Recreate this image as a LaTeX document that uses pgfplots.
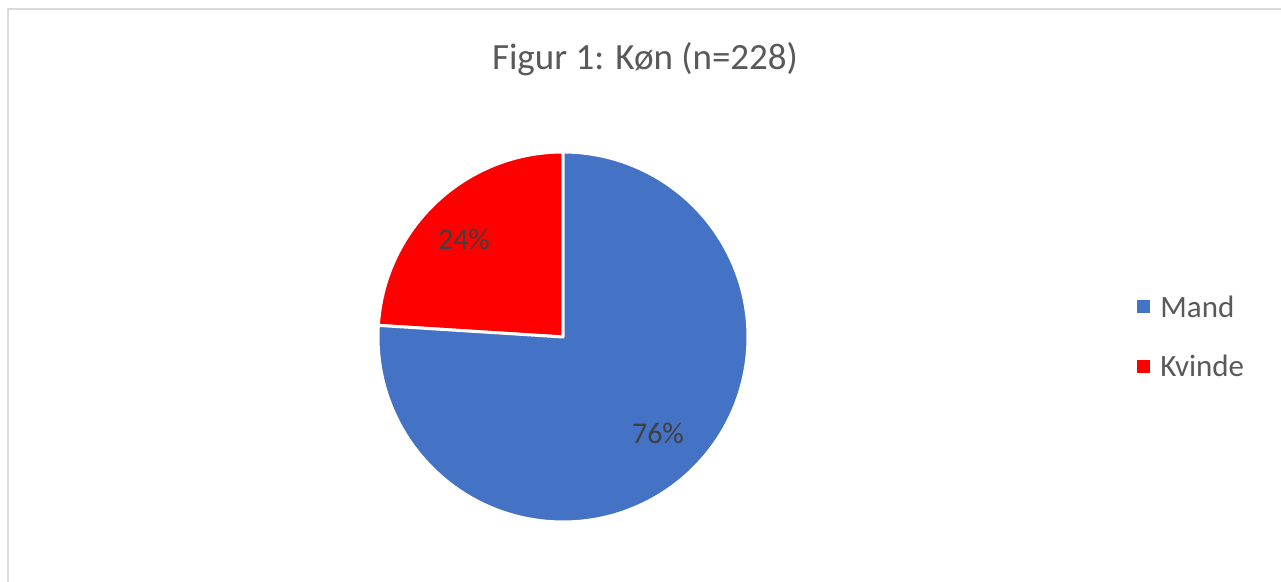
\documentclass[border=0pt]{standalone}
\usepackage{pgfplots}
\pgfplotsset{compat=1.18}
\usepackage{fontspec}
\setmainfont{Carlito}
\definecolor{mandblue}{HTML}{4472C4}
\definecolor{kvindered}{HTML}{FF0000}
\definecolor{framegray}{HTML}{D9D9D9}
\definecolor{titlegray}{HTML}{595959}
\definecolor{labelgray}{HTML}{404040}
% data (percent)
\def\mand{76}
\def\kvinde{24}
\begin{document}
\begin{tikzpicture}
\begin{axis}[
  hide axis, scale only axis,
  width=640.5pt, height=291pt,
  xmin=0, xmax=1281, ymin=0, ymax=582,
  clip=true,
]
\fill[white] (axis cs:0,0) rectangle (axis cs:1281,582);
\draw[framegray, line width=0.8pt] (axis cs:8,-10) -- (axis cs:8,573) -- (axis cs:1300,573);
\pgfmathsetmacro{\angB}{90+360*\kvinde/100}
% Kvinde slice
\filldraw[fill=kvindered, draw=white, line width=1.5pt, line join=round]
  (axis cs:563,245) -- ++(90:92.5pt) arc[start angle=90, end angle=\angB, radius=92.5pt] -- cycle;
% Mand slice
\filldraw[fill=mandblue, draw=white, line width=1.5pt, line join=round]
  (axis cs:563,245) -- ++(\angB:92.5pt) arc[start angle=\angB, end angle=450, radius=92.5pt] -- cycle;
% title
\node[anchor=base, inner sep=0pt, text=titlegray, font=\fontsize{18.5pt}{22pt}\selectfont] at (axis cs:645,512) {Figur 1: Køn (n=228)};
% data labels
\node[anchor=base, inner sep=0pt, text=labelgray, font=\fontsize{15pt}{18pt}\selectfont] at (axis cs:464,332) {\kvinde\%};
\node[anchor=base, inner sep=0pt, text=labelgray, font=\fontsize{15pt}{18pt}\selectfont] at (axis cs:658,138) {\mand\%};
% legend
\fill[mandblue] (axis cs:1137,269) rectangle (axis cs:1150,282);
\fill[kvindered] (axis cs:1137,209) rectangle (axis cs:1150,222);
\node[anchor=base west, inner sep=0pt, text=titlegray, font=\fontsize{15.5pt}{18pt}\selectfont] at (axis cs:1160,264) {Mand};
\node[anchor=base west, inner sep=0pt, text=titlegray, font=\fontsize{15.5pt}{18pt}\selectfont] at (axis cs:1160,205) {Kvinde};
\end{axis}
\end{tikzpicture}
\end{document}
